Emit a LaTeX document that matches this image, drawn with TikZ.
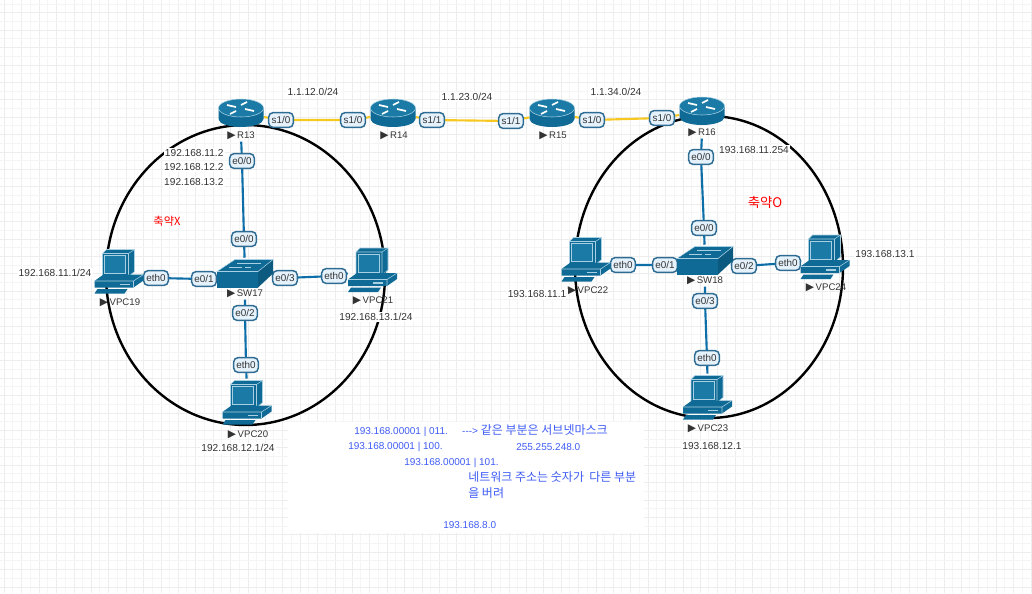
\documentclass[tikz,border=0pt]{standalone}
\usepackage{fontspec}
\setmainfont{Liberation Sans}
\newfontfamily\krfont{Noto Sans CJK KR}
\newfontfamily\symfont{DejaVu Sans}
\usetikzlibrary{backgrounds}
\definecolor{icondark}{HTML}{0F6A96}
\definecolor{icontop}{HTML}{1B7BA6}
\definecolor{iconline}{HTML}{A9D0E2}
\definecolor{wireblue}{HTML}{0E6FA8}
\definecolor{wiregold}{HTML}{F6C821}
\definecolor{portfill}{HTML}{E6F2FB}
\definecolor{portedge}{HTML}{2F6C93}
\definecolor{notesblue}{HTML}{3F5CF5}
\definecolor{labelgray}{HTML}{333333}
\newcommand{\devmark}{{\symfont\fontsize{8pt}{8pt}\selectfont ▶}\,}
\tikzset{
  gridmajor/.style={draw=black!7, line width=0.6pt},
  gridminor/.style={draw=black!4, line width=0.5pt},
  routerbox/.style={inner sep=0pt, minimum width=33.75pt, minimum height=21pt},
  pcbox/.style={inner sep=0pt, minimum width=37.5pt, minimum height=34pt},
  swbox/.style={inner sep=0pt, minimum width=43pt, minimum height=21.75pt},
  portbox/.style={draw=portedge, fill=portfill, line width=1.1pt, rounded corners=3.5pt, inner sep=0pt,
    minimum width=18.6pt, minimum height=11.2pt, font=\fontsize{7.4pt}{8pt}\selectfont, text=labelgray},
  devname/.style={inner sep=1pt, font=\fontsize{7.2pt}{8pt}\selectfont, text=labelgray},
  addr/.style={fill=white, inner sep=1pt, font=\fontsize{7.6pt}{9pt}\selectfont, text=labelgray},
  notes/.style={inner sep=0pt, anchor=west, font=\fontsize{7.5pt}{9pt}\selectfont, text=notesblue},
  noteskr/.style={font=\krfont\fontsize{9pt}{10pt}\selectfont},
  serial/.style={draw=wiregold, line width=1.6pt},
  ethernet/.style={draw=wireblue, line width=1.6pt},
  area/.style={draw=black, line width=1.8pt},
  routericon/.pic={
    \fill[icondark] (-22.5,-5) -- (-22.5,6) arc[x radius=22.5, y radius=8, start angle=180, end angle=0] -- (22.5,-5) -- cycle;
    \fill[icontop, draw=iconline, line width=0.4pt] (0,-5) ellipse[x radius=22.5, y radius=9];
    \foreach \a/\b/\c/\d in {-14/-8/-5/-6, 4/-4/13/-2, 6/-11/0/-8, -5/-2/-11/1} {
      \draw[white, line width=1.3pt] (\a,\b) -- (\c,\d);
    }
  },
  swicon/.pic={
    \fill[icondark] (-28,-1) -- (13,-1) -- (13,15) -- (-28,15) -- cycle;
    \fill[icondark!85!black] (13,-1) -- (28,-13) -- (28,1) -- (13,15) -- cycle;
    \fill[icondark, draw=iconline, line width=0.4pt] (-28,-1) -- (-10,-13) -- (28,-13) -- (13,-1) -- cycle;
    \foreach \a/\b/\c/\d in {-8/-9/6/-9, 4/-9/16/-9, -16/-5/-3/-5, 0/-5/6/-5} {
      \draw[iconline, line width=0.6pt] (\a,\b) -- (\c,\d);
    }
  },
  pcicon/.pic={
    % monitor
    \fill[icondark, draw=iconline, line width=0.4pt] (-17,-17) -- (-13,-21) -- (15,-21) -- (15,1) -- (9,6) -- (-17,6) -- cycle;
    \draw[iconline, line width=0.4pt] (-17,-17) -- (9,-17) -- (15,-21) (9,-17) -- (9,6);
    \fill[icontop, draw=iconline, line width=0.5pt] (-15,-15) rectangle (6,3);
    % base
    \fill[icondark] (-25,10.5) -- (-16,4) -- (24,4) -- (24,10) -- (14,17) -- (-25,17) -- cycle;
    \draw[iconline, line width=0.4pt] (-25,10.5) -- (14,10.5) -- (24,4) (14,10.5) -- (14,17);
    \draw[iconline, line width=0.8pt] (0,14) -- (10,14);
    % keyboard
    \fill[icondark] (-22,18.5) -- (8,18.5) -- (5,23) -- (-25,23) -- cycle;
  }
}
\begin{document}
\begin{tikzpicture}[x=0.75pt,y=-0.75pt]
\useasboundingbox (0,0) rectangle (1032,593);

\begin{pgfonlayer}{background}
% Draw grid
\foreach \i in {0,...,59} {
    \draw[gridminor] ({12.7+17.4*\i},0) -- ({12.7+17.4*\i},593);
    \draw[gridmajor] ({4.3+17.4*\i},0) -- ({4.3+17.4*\i},593);
}
\foreach \i in {0,...,34} {
    \draw[gridminor] (0,{4+17.4*\i}) -- (1032,{4+17.4*\i});
    \draw[gridmajor] (0,{12.7+17.4*\i}) -- (1032,{12.7+17.4*\i});
}
% White note area
\fill[white] (288,422) rectangle (644,533);
% Two areas
\draw[area] (245.5,275) ellipse[x radius=139.5, y radius=150];
\draw[area] (709,267) ellipse[x radius=134, y radius=151];
\end{pgfonlayer}

% Devices
\foreach \n/\x/\y in {R13/241/113, R14/393/113, R15/552/113, R16/702/111} {
    \node[routerbox] (\n) at (\x,\y) {};
}
\foreach \n/\x/\y in {SW17/245/272.5, SW18/705/259.5} {
    \node[swbox] (\n) at (\x,\y) {};
}
\foreach \n/\x/\y in {VPC19/119.5/270.5, VPC21/373/269, VPC20/247.5/401.5, VPC22/586.5/258.5, VPC24/825.5/256, VPC23/708/396.5} {
    \node[pcbox] (\n) at (\x,\y) {};
}

% Device names
\foreach \n/\x/\y in {R13/241/136, R14/394/136, R15/553/136, R16/702/133, SW17/245/294, SW18/705/281,
    VPC19/120/303, VPC21/373/301, VPC20/248/435, VPC22/588/291, VPC24/826/288, VPC23/708/429} {
    \node[devname] (\n-name) at (\x,\y) {\devmark\n};
}

% Ports
\foreach \n/\x/\y/\t in {p13s/281/120/{s1/0}, p14a/353/120/{s1/0}, p14b/432/120/{s1/1}, p15a/511/121/{s1/1},
    p15b/592/120/{s1/0}, p16s/662/118/{s1/0}, p13e/242/161/{e0/0}, p17a/244/239/{e0/0}, p19/156/278/eth0,
    p17b/204/279/{e0/1}, p17d/285/278/{e0/3}, p21/334/276/eth0, p17c/245/313/{e0/2}, p20/246/365/eth0,
    p16e/701/157/{e0/0}, p18a/704/228/{e0/0}, p22/623/265/eth0, p18b/665/265/{e0/1}, p18c/744/266/{e0/2},
    p24/788/263/eth0, p18d/705/301/{e0/3}, p23/707/358/eth0} {
    \node[portbox] (\n) at (\x,\y) {\t};
}

% Links
\begin{pgfonlayer}{background}
\draw[serial] (R13) -- (p13s) -- (p14a) -- (R14) -- (p14b) -- (p15a) -- (R15) -- (p15b) -- (p16s) -- (R16);
\draw[ethernet] (R13-name) -- (p13e) -- (p17a) -- (SW17);
\draw[ethernet] (VPC19) -- (p19) -- (p17b) -- (SW17);
\draw[ethernet] (SW17) -- (p17d) -- (p21) -- (VPC21);
\draw[ethernet] (SW17-name) -- (p17c) -- (p20) -- (VPC20);
\draw[ethernet] (R16-name) -- (p16e) -- (p18a) -- (SW18);
\draw[ethernet] (VPC22) -- (p22) -- (p18b) -- (SW18);
\draw[ethernet] (SW18) -- (p18c) -- (p24) -- (VPC24);
\draw[ethernet] (SW18-name) -- (p18d) -- (p23) -- (VPC23);
\end{pgfonlayer}

% Icons
\foreach \n in {R13,R14,R15,R16} { \pic at (\n) {routericon}; }
\foreach \n in {SW17,SW18} { \pic at (\n) {swicon}; }
\foreach \n in {VPC19,VPC20,VPC21,VPC22,VPC23,VPC24} { \pic at (\n) {pcicon}; }

% Addresses
\node[addr] (net12) at (313,92) {1.1.12.0/24};
\node[addr] (net23) at (467,97) {1.1.23.0/24};
\node[addr] (net34) at (616,92) {1.1.34.0/24};
\node[addr, anchor=east] (gw11) at (225,153) {192.168.11.2};
\node[addr, anchor=east] (gw12) at (225,167) {192.168.12.2};
\node[addr, anchor=east] (gw13) at (225,182) {192.168.13.2};
\node[addr] (ip19) at (55,273) {192.168.11.1/24};
\node[addr] (ip21) at (376,317) {192.168.13.1/24};
\node[addr] (ip20) at (238,448) {192.168.12.1/24};
\node[addr] (ip16) at (754,150) {193.168.11.254};
\node[addr] (ip24) at (885,254) {193.168.13.1};
\node[addr] (ip22) at (537,294) {193.168.11.1};
\node[addr] (ip23) at (712,446) {193.168.12.1};

% Area names
\node[text=red, inner sep=0pt, font=\krfont\fontsize{8.4pt}{10pt}\selectfont] (sumx) at (167,221) {축약X};
\node[text=red, inner sep=0pt, font=\krfont\fontsize{10pt}{12pt}\selectfont] (sumo) at (765,202) {축약O};

% Notes
\node[notes] (note1) at (354,431) {193.168.00001 | 011.\hspace{8pt} -{}-{}-> {\krfont\fontsize{9pt}{10pt}\selectfont 같은 부분은 서브넷마스크}};
\node[notes] (note2) at (348,447) {193.168.00001 | 100.};
\node[notes] (note3) at (516,447) {255.255.248.0};
\node[notes] (note4) at (404,463) {193.168.00001 | 101.};
\node[notes, noteskr] (note5) at (468,477) {네트워크 주소는 숫자가 ~다른 부분};
\node[notes, noteskr] (note6) at (468,493) {을 버려};
\node[notes] (note7) at (443,525) {193.168.8.0};
\end{tikzpicture}
\end{document}
